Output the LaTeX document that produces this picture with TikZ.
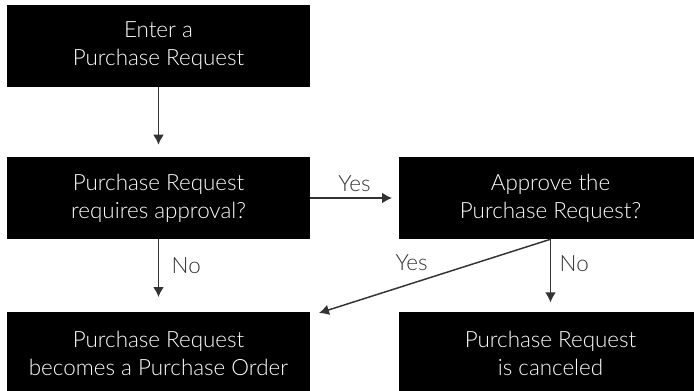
\documentclass[tikz,border=0pt]{standalone}
\usepackage{fontspec}
\setmainfont{Lato}[UprightFont=* Light]
\definecolor{mygray}{RGB}{51,51,51}
\usetikzlibrary{arrows.meta}
\begin{document}
\begin{tikzpicture}[x=0.75pt,y=-0.75pt,line cap=butt]
	\tikzstyle{box}=[rectangle,fill=black,text=white,minimum width=227.25pt,minimum height=61.5pt,align=center,inner sep=0pt,font=\fontsize{16.8}{21}\selectfont];
	\tikzstyle{arr}=[->,>={Latex[length=7.5pt,width=8pt]},draw=mygray,line width=1.1pt];
	\tikzstyle{lbl}=[text=mygray,font=\fontsize{16.8}{21}\selectfont];
	\useasboundingbox (0,0) rectangle (694,391);
	\node[box] (enter)   at (158.5,46)  {Enter a\\Purchase Request};
	\node[box] (needs)   at (158.5,198) {Purchase Request\\requires approval?};
	\node[box] (approve) at (550.5,198) {Approve the\\Purchase Request?};
	\node[box] (order)   at (158.5,353) {Purchase Request\\becomes a Purchase Order};
	\node[box] (cancel)  at (550.5,353) {Purchase Request\\is canceled};
	\coordinate (yestip) at (319,313);
	\draw[arr,shorten >=9pt] (enter) -- (needs);
	\draw[arr,shorten >=5pt] (needs) -- node[lbl,above=1pt]{Yes} (approve);
	\draw[arr,shorten >=11pt] (needs) -- node[lbl,pos=0.36,right=6pt]{No} (order);
	\draw[arr,shorten >=7pt] (approve) -- node[lbl,pos=0.34,right=3pt]{No} (cancel);
	\draw[arr] (approve.south) -- node[lbl,pos=0.6,above=6pt]{Yes} (yestip);
\end{tikzpicture}
\end{document}
